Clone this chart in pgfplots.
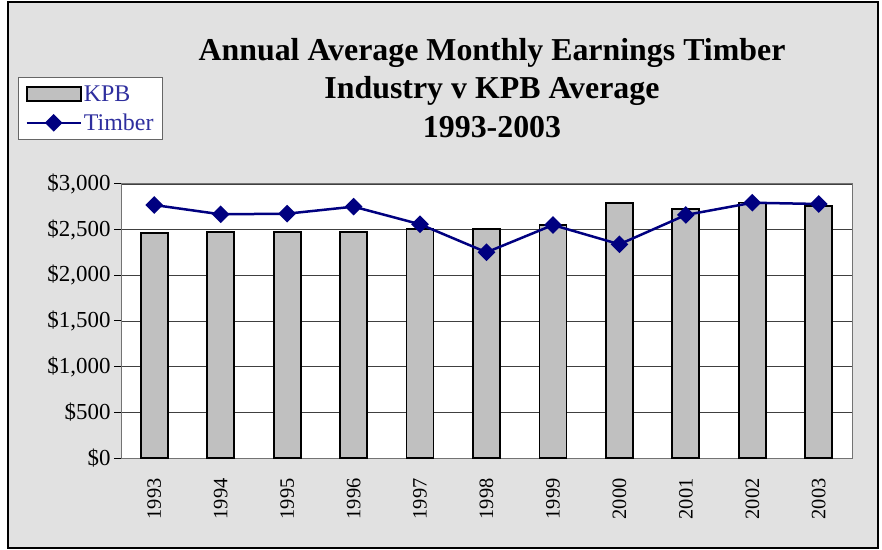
\documentclass[border=0pt]{standalone}
\usepackage{pgfplots}
\pgfplotsset{compat=1.18}
\usepackage{fontspec}
\setmainfont{Liberation Serif}

\definecolor{bggray}{HTML}{E1E1E1}
\definecolor{bargray}{HTML}{C0C0C0}
\definecolor{navy}{HTML}{000080}
\definecolor{legtext}{HTML}{2E2E9E}

\begin{document}
\begin{tikzpicture}
% Outer chart area
\fill[white] (0bp,0bp) rectangle (882bp,550bp);
\filldraw[fill=bggray, draw=black, line width=1.2bp] (8bp,2bp) rectangle (878bp,548bp);

% Title
\node[align=center, font=\fontsize{32}{38.5}\selectfont\bfseries] at (492bp,462bp)
  {Annual Average Monthly Earnings Timber\\Industry v KPB Average\\1993-2003};

\begin{axis}[
  at={(121bp,92bp)}, anchor=south west,
  width=731bp, height=274bp, scale only axis,
  xmin=-0.5, xmax=10.5,
  ymin=0, ymax=3000,
  axis background/.style={fill=white},
  axis line style={draw=black!55, line width=1bp},
  xtick={0,...,10},
  xticklabels={1993,1994,1995,1996,1997,1998,1999,2000,2001,2002,2003},
  x tick label style={rotate=90, anchor=east, font=\fontsize{20.5}{20.5}\selectfont},
  xticklabel shift=10bp,
  xtick style={draw=none},
  extra x ticks={-0.5,0.5,...,10.5},
  extra x tick labels={},
  extra x tick style={tick style={draw=black, line width=1bp}, major tick length=7bp, tick align=outside, grid=none},
  ytick={0,500,...,3000},
  yticklabel={\$\pgfmathprintnumber{\tick}},
  /pgf/number format/.cd, 1000 sep={,}, assume math mode=true, /pgfplots/.cd,
  y tick label style={font=\fontsize{23}{23}\selectfont},
  ytick style={draw=black, line width=1bp},
  major tick length=7bp,
  tick align=outside,
  tick pos=left,
  ymajorgrids,
  grid style={draw=black!75, line width=0.9bp},
  clip=false,
  legend style={
    at={(-0.141,1.39)}, anchor=north west,
    draw=black!60, fill=white, line width=1bp,
    font=\fontsize{24}{24}\selectfont, text=legtext,
    row sep=7bp, inner xsep=7bp, inner ysep=6bp,
    legend cell align=left,
  },
]
\addplot[ybar, bar width=27bp, fill=bargray, draw=black, line width=1.8bp,
  legend image code/.code={\draw[fill=bargray, draw=black, line width=1.8bp] (0bp,-7bp) rectangle (54bp,7bp);}]
  coordinates {(0,2467) (1,2474) (2,2478) (3,2471) (4,2507) (5,2504)
               (6,2548) (7,2792) (8,2730) (9,2797) (10,2759)};
\addlegendentry{KPB}
\addplot[navy, line width=2.5bp, mark=square*, mark size=5bp,
  mark options={rotate=45, fill=navy},
  legend image code/.code={\draw[navy, line width=2.5bp] (0bp,0bp) -- (54bp,0bp);
    \fill[navy, rotate around={45:(27bp,0bp)}] (22bp,-5bp) rectangle (32bp,5bp);}]
  coordinates {(0,2770) (1,2668) (2,2675) (3,2752) (4,2559) (5,2252)
               (6,2551) (7,2340) (8,2661) (9,2795) (10,2781)};
\addlegendentry{Timber}
\end{axis}

\pgfresetboundingbox
\path (0bp,0bp) rectangle (882bp,550bp);
\end{tikzpicture}
\end{document}
